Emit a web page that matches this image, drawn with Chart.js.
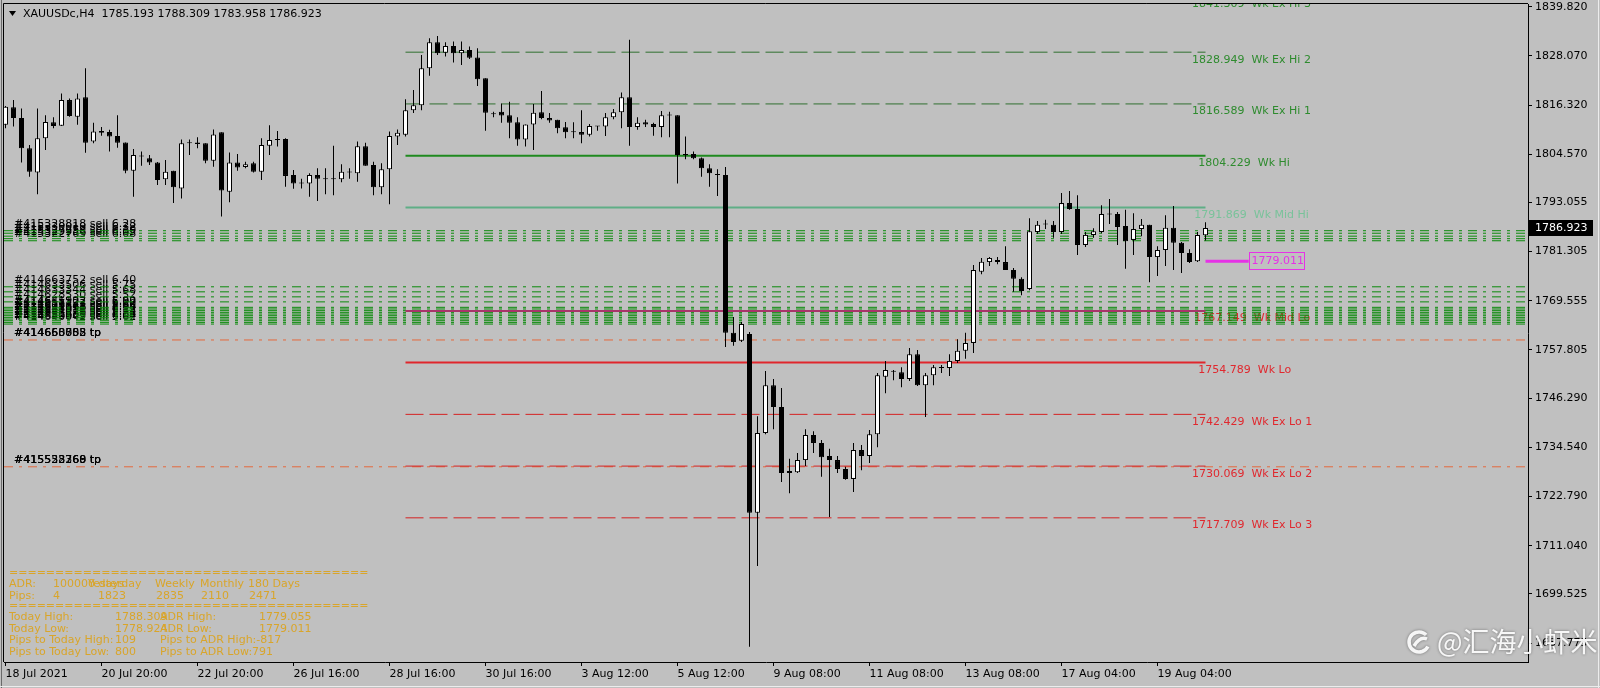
<!DOCTYPE html>
<html>
<head>
<meta charset="utf-8">
<script src="https://cdn.jsdelivr.net/npm/chart.js@4.4.1/dist/chart.umd.min.js"></script>
<style>
  html, body { margin: 0; padding: 0; background: #c0c0c0; overflow: hidden; }
</style>
</head>
<body>
<canvas id="chart" width="1600" height="688"></canvas>
<script>
// XAUUSDc H4, one value per bar, oldest first
const opens = [1811.6,1815.8,1813.2,1806.0,1800.2,1808.4,1812.2,1811.4,1817.5,1813.5,
  1818.2,1807.6,1810.1,1809.9,1808.9,1807.4,1800.6,1804.0,1803.6,1802.6,
  1798.6,1800.6,1796.4,1807.2,1807.4,1807.2,1803.0,1809.8,1795.6,1802.6,
  1801.5,1802.4,1800.4,1806.6,1808.0,1808.2,1799.6,1797.7,1797.6,1799.6,
  1798.8,1798.6,1798.6,1800.2,1800.0,1806.5,1802.0,1796.7,1801.0,1808.8,
  1809.2,1815.1,1816.3,1825.1,1831.3,1828.8,1830.4,1828.7,1829.5,1827.7,
  1822.7,1814.3,1814.7,1813.9,1812.2,1808.1,1811.7,1814.6,1813.2,1812.8,
  1811.0,1809.9,1809.9,1809.2,1811.2,1811.2,1813.4,1814.6,1818.2,1811.1,
  1812.2,1811.8,1811.1,1813.9,1813.9,1804.6,1804.6,1803.6,1801.2,1799.8,
  1799.6,1761.9,1760.0,1761.6,1718.9,1738.0,1749.4,1744.2,1728.4,1728.6,
  1731.5,1737.5,1735.6,1732.5,1731.5,1729.4,1727.0,1733.9,1732.5,1737.7,
  1751.4,1752.6,1752.5,1750.9,1756.8,1749.4,1751.8,1753.5,1753.5,1755.2,
  1757.6,1759.5,1776.5,1778.8,1779.3,1778.8,1776.9,1774.8,1772.4,1786.0,
  1787.8,1787.7,1786.0,1792.9,1791.5,1782.9,1785.3,1786.0,1790.3,1790.3,
  1787.4,1784.1,1786.7,1787.7,1780.0,1781.7,1787.0,1783.4,1781.0,1779.0,
  1785.193];
const highs = [1816.1,1817.5,1815.5,1806.8,1815.5,1813.9,1813.4,1819.1,1817.9,1819.1,
  1825.1,1812.1,1811.1,1810.4,1813.9,1807.4,1805.8,1805.2,1804.4,1802.7,
  1803.2,1800.6,1808.1,1808.1,1808.6,1807.2,1810.5,1809.8,1805.0,1804.6,
  1802.8,1802.8,1808.4,1811.5,1810.1,1808.4,1800.8,1798.7,1800.0,1801.2,
  1801.2,1806.6,1802.2,1801.2,1807.6,1807.3,1802.8,1802.4,1810.0,1810.5,
  1817.7,1819.9,1828.3,1832.3,1832.8,1831.3,1831.5,1831.5,1830.3,1829.9,
  1822.7,1814.7,1816.7,1817.1,1813.4,1811.7,1816.6,1819.7,1814.4,1812.8,
  1812.3,1812.2,1815.1,1811.8,1811.3,1814.4,1815.4,1819.3,1831.9,1813.4,
  1812.8,1812.1,1814.9,1814.7,1813.9,1808.8,1805.2,1803.8,1802.2,1801.0,
  1801.5,1765.7,1764.5,1762.1,1742.0,1752.8,1750.9,1748.7,1731.8,1733.2,
  1738.9,1738.4,1736.3,1734.2,1732.5,1729.9,1735.6,1735.1,1738.7,1752.3,
  1755.2,1753.0,1753.7,1758.3,1757.8,1752.3,1754.2,1754.2,1756.8,1760.4,
  1761.9,1778.1,1779.8,1780.0,1780.0,1782.6,1777.4,1775.2,1789.3,1788.6,
  1788.9,1788.6,1795.3,1795.8,1794.8,1786.0,1786.9,1792.4,1793.9,1790.8,
  1791.3,1790.5,1789.1,1787.7,1782.6,1790.0,1792.2,1783.6,1781.9,1786.0,
  1788.309];
const lows = [1810.8,1811.2,1802.6,1799.2,1795.0,1805.6,1810.8,1811.3,1813.5,1811.6,
  1804.9,1807.2,1809.0,1805.2,1806.1,1800.0,1794.4,1801.8,1802.0,1797.2,
  1797.2,1792.9,1794.0,1804.4,1806.0,1802.4,1801.6,1789.7,1793.1,1800.6,
  1801.2,1800.2,1798.4,1804.4,1806.4,1796.8,1796.3,1796.4,1794.4,1793.4,
  1795.0,1794.8,1797.9,1798.7,1798.0,1801.8,1794.8,1795.0,1792.6,1806.8,
  1808.8,1814.4,1815.1,1823.3,1828.3,1827.9,1826.5,1825.9,1827.3,1820.9,
  1810.2,1813.4,1812.1,1808.4,1806.6,1806.4,1805.6,1812.9,1812.1,1809.6,
  1808.4,1808.4,1807.2,1808.8,1810.2,1808.9,1812.9,1810.8,1806.6,1810.4,
  1811.1,1809.0,1808.6,1808.6,1797.6,1803.4,1803.4,1799.2,1796.8,1794.6,
  1758.5,1758.8,1759.7,1686.9,1706.2,1737.7,1738.9,1726.3,1723.6,1728.4,
  1730.1,1733.2,1727.5,1717.9,1728.4,1726.8,1723.9,1729.1,1730.8,1734.6,
  1747.5,1750.6,1748.9,1750.4,1749.2,1741.8,1749.4,1752.3,1751.6,1754.7,
  1755.7,1757.1,1775.9,1777.9,1778.3,1776.9,1771.7,1770.9,1772.1,1785.5,
  1786.7,1784.6,1785.5,1791.3,1780.5,1782.4,1784.6,1785.7,1787.9,1782.9,
  1777.2,1780.5,1785.0,1774.0,1775.5,1777.9,1776.9,1776.2,1778.6,1778.8,
  1783.958];
const closes = [1815.9,1813.2,1806.0,1800.4,1808.4,1812.3,1811.3,1817.5,1813.7,1817.9,
  1807.3,1810.0,1809.7,1808.8,1807.3,1800.6,1804.4,1804.2,1802.6,1798.4,
  1800.4,1796.7,1807.2,1807.3,1807.0,1803.0,1809.3,1795.9,1802.6,1801.4,
  1802.2,1800.4,1806.8,1808.0,1808.1,1799.4,1797.6,1797.6,1799.6,1798.7,
  1798.6,1798.8,1800.4,1800.3,1806.5,1801.8,1796.7,1801.0,1808.9,1809.7,
  1815.1,1816.3,1825.1,1831.3,1828.7,1830.4,1828.7,1829.5,1827.6,1822.5,
  1814.5,1814.1,1813.8,1812.1,1808.1,1811.7,1814.5,1813.2,1812.6,1810.8,
  1809.8,1809.8,1809.2,1811.3,1811.3,1813.4,1814.6,1818.2,1811.1,1812.1,
  1811.7,1811.1,1813.9,1813.8,1804.4,1804.3,1803.6,1801.2,1800.0,1799.6,
  1761.9,1759.7,1764.0,1718.9,1738.0,1749.4,1744.2,1728.4,1728.9,1731.5,
  1737.5,1735.6,1732.2,1731.5,1729.4,1727.0,1733.9,1732.5,1737.7,1751.8,
  1753.0,1752.8,1750.9,1756.8,1749.4,1751.8,1753.7,1753.6,1755.2,1757.6,
  1759.5,1776.9,1778.9,1779.8,1778.8,1776.9,1774.8,1771.9,1786.2,1787.7,
  1787.9,1786.0,1792.9,1791.5,1782.9,1785.3,1786.2,1790.3,1790.2,1787.2,
  1783.8,1786.7,1787.7,1780.0,1781.7,1787.0,1783.4,1781.0,1778.8,1785.3,
  1786.923];

// time axis labels (bar index -> text)
const timeTickBars = [0, 12, 24, 36, 48, 60, 72, 84, 96, 108, 120, 132, 144];
const timeTickLabels = ['18 Jul 2021', '20 Jul 20:00', '22 Jul 20:00', '26 Jul 16:00', '28 Jul 16:00',
  '30 Jul 16:00', '3 Aug 12:00', '5 Aug 12:00', '9 Aug 08:00', '11 Aug 08:00', '13 Aug 08:00',
  '17 Aug 04:00', '19 Aug 04:00'];
const priceTicks = [1839.820, 1828.070, 1816.320, 1804.570, 1793.055, 1781.305, 1769.555,
  1757.805, 1746.290, 1734.540, 1722.790, 1711.040, 1699.525, 1687.775];

// weekly levels
const levelNames = ['Wk Ex Hi 3', 'Wk Ex Hi 2', 'Wk Ex Hi 1', 'Wk Hi', 'Wk Mid Hi',
  'Wk Mid Lo', 'Wk Lo', 'Wk Ex Lo 1', 'Wk Ex Lo 2', 'Wk Ex Lo 3'];
const levelValues = [1841.309, 1828.949, 1816.589, 1804.229, 1791.869,
  1767.149, 1754.789, 1742.429, 1730.069, 1717.709];
const levelFromBar = 50;
const levelToBar = 150;

// open orders drawn as lines across the chart
const sellTopPrices = [1786.3, 1785.7, 1785.0, 1784.4, 1783.9];
const sellTopTickets = ['#415328818', '#415330019', '#415327259', '#415329936', '#415322769'];
const sellTopLots = [6.28, 6.32, 6.10, 6.05, 6.08];
const sellLowPrices = [1772.9, 1771.7, 1770.5, 1769.3, 1768.0, 1767.6, 1767.2, 1766.8,
  1766.4, 1766.0, 1765.6, 1765.2, 1764.8, 1764.4, 1764.0];
const sellLowTickets = ['#414663752', '#414633506', '#414633344', '#414628530', '#414641902',
  '#414655127', '#414617733', '#414609841', '#414622658', '#414648390', '#414637015',
  '#414644276', '#414651588', '#414659903', '#414640042'];
const sellLowLots = [6.40, 5.75, 5.68, 5.52, 5.90, 6.02, 5.80, 5.66, 5.94, 6.12, 5.58,
  5.72, 5.86, 6.04, 5.62];
const tpPrices = [1760.2, 1729.9];
const tpTickets = [['#414658888', '#414660005', '#414663752'], ['#415553368', '#415538260', '#415522769']];

// ADR panel
const adrPeriods = ['100000 days', 'Yesterday', 'Weekly', 'Monthly', '180 Days'];
const adrPips = [4, 1823, 2835, 2110, 2471];
const todayHigh = 1788.309, todayLow = 1778.924;
const adrHigh = 1779.055, adrLow = 1779.011;
const pipsToTodayHigh = 109, pipsToTodayLow = 800;
const pipsToAdrHigh = -817, pipsToAdrLow = 791;
const adrLineToBar = 155.4;

const FONT = '"DejaVu Sans", Verdana, sans-serif';
const FSIZE = 11;
const X_MIN = -0.1875, X_MAX = 190.3125;

const levelStyle = {
  'Wk Ex Hi 3': { line: '#2f6f2f', width: 1, dash: [18, 6], text: '#2e8b2e', at: 148.3, dy: 4 },
  'Wk Ex Hi 2': { line: '#2f6f2f', width: 1, dash: [18, 6], text: '#2e8b2e', at: 148.3, dy: 7.5 },
  'Wk Ex Hi 1': { line: '#2f6f2f', width: 1, dash: [18, 6], text: '#2e8b2e', at: 148.3, dy: 7.5 },
  'Wk Hi':      { line: '#1f8a1f', width: 2, dash: [],     text: '#2e8b2e', at: 149.1, dy: 7.5 },
  'Wk Mid Hi':  { line: '#5fae86', width: 2, dash: [],     text: '#79c29a', at: 148.6, dy: 7.5 },
  'Wk Mid Lo':  { line: '#a8346a', width: 2, dash: [],     text: '#e0282e', at: 148.6, dy: 7.5 },
  'Wk Lo':      { line: '#e0262c', width: 2, dash: [],     text: '#e0282e', at: 149.1, dy: 8 },
  'Wk Ex Lo 1': { line: '#d42222', width: 1, dash: [18, 6], text: '#e0282e', at: 148.3, dy: 8 },
  'Wk Ex Lo 2': { line: '#d42222', width: 1, dash: [18, 6], text: '#e0282e', at: 148.3, dy: 8 },
  'Wk Ex Lo 3': { line: '#d42222', width: 1, dash: [18, 6], text: '#e0282e', at: 148.3, dy: 7.5 }
};

function hline(price, x0, x1, color, width, dash, order) {
  return {
    type: 'line',
    data: [{ x: x0, y: price }, { x: x1, y: price }],
    borderColor: color,
    borderWidth: width,
    borderDash: dash,
    pointRadius: 0,
    order: order
  };
}

let datasets = [];

// order lines (background)
sellTopPrices.concat(sellLowPrices).forEach(p => {
  datasets.push(hline(p, X_MIN, X_MAX, '#0b8a0b', 1, [9, 6, 3, 6], 20));
});
tpPrices.forEach(p => {
  datasets.push(hline(p, X_MIN, X_MAX, '#e4683c', 1, [9, 6, 3, 6], 20));
});

// weekly levels
levelNames.forEach((n, k) => {
  const st = levelStyle[n];
  datasets.push(hline(levelValues[k], levelFromBar, levelToBar, st.line, st.width, st.dash, 10));
});

// ADR low marker
datasets.push(hline(adrLow, levelToBar, adrLineToBar, '#e632e6', 3, [], 5));

// candles: wicks then bodies on top
datasets.push({
  type: 'bar',
  data: highs.map((h, i) => ({ x: i, y: [lows[i], h] })),
  backgroundColor: '#000000',
  borderWidth: 0,
  barThickness: 1,
  grouped: false,
  inflateAmount: 0,
  order: 2
});
datasets.push({
  type: 'bar',
  data: opens.map((o, i) => ({ x: i, y: [o, closes[i]] })),
  backgroundColor: opens.map((o, i) => (closes[i] - o > 0.5 ? '#ffffff' : '#000000')),
  borderColor: '#000000',
  borderWidth: 1,
  borderSkipped: false,
  barThickness: 5,
  minBarLength: 1,
  grouped: false,
  inflateAmount: 0,
  order: 1
});

function text(ctx, s, x, y, color) {
  ctx.fillStyle = color;
  ctx.fillText(s, x, y);
}

const overlay = {
  id: 'overlay',
  beforeDatasetsDraw(chart) {
    const { ctx, chartArea: a, scales: { x, y } } = chart;
    ctx.save();
    ctx.beginPath();
    ctx.rect(a.left, a.top, a.right - a.left, a.bottom - a.top);
    ctx.clip();
    ctx.font = FSIZE + 'px ' + FONT;
    ctx.textBaseline = 'middle';
    ctx.textAlign = 'left';

    // level captions
    levelNames.forEach((n, k) => {
      const st = levelStyle[n];
      text(ctx, levelValues[k].toFixed(3) + '  ' + n, x.getPixelForValue(st.at),
        y.getPixelForValue(levelValues[k]) + st.dy, st.text);
    });

    // order captions
    sellTopPrices.forEach((p, k) => {
      text(ctx, sellTopTickets[k] + ' sell ' + sellTopLots[k].toFixed(2), a.left + 10,
        y.getPixelForValue(p) - 6.5, '#000');
    });
    sellLowPrices.forEach((p, k) => {
      text(ctx, sellLowTickets[k] + ' sell ' + sellLowLots[k].toFixed(2), a.left + 10,
        y.getPixelForValue(p) - 6.5, '#000');
    });
    tpPrices.forEach((p, k) => {
      tpTickets[k].forEach(t => text(ctx, t + ' tp', a.left + 10, y.getPixelForValue(p) - 6.5, '#000'));
    });
    ctx.restore();
  },
  afterDraw(chart) {
    const { ctx, chartArea: a, scales: { x, y } } = chart;
    ctx.save();

    // window frame and chart border
    ctx.strokeStyle = '#6a6a6a';
    ctx.lineWidth = 1;
    ctx.beginPath();
    ctx.moveTo(1.5, 0); ctx.lineTo(1.5, 688);
    ctx.stroke();
    ctx.strokeStyle = '#ececec';
    ctx.beginPath();
    ctx.moveTo(1598.5, 0); ctx.lineTo(1598.5, 688);
    ctx.moveTo(0, 686.5); ctx.lineTo(1600, 686.5);
    ctx.stroke();
    ctx.strokeStyle = '#000';
    ctx.beginPath();
    ctx.moveTo(a.left - 0.5, a.bottom); ctx.lineTo(a.left - 0.5, a.top - 0.5); ctx.lineTo(a.right, a.top - 0.5);
    ctx.stroke();

    ctx.font = FSIZE + 'px ' + FONT;
    ctx.textBaseline = 'middle';
    ctx.textAlign = 'left';

    // title
    ctx.fillStyle = '#000';
    ctx.beginPath();
    ctx.moveTo(9, 11); ctx.lineTo(16, 11); ctx.lineTo(12.5, 16); ctx.closePath();
    ctx.fill();
    text(ctx, 'XAUUSDc,H4  ' + [opens[150], highs[150], lows[150], closes[150]].map(v => v.toFixed(3)).join(' '),
      23, 14, '#000');

    // ADR panel
    const gold = '#d9a52a';
    let sep = '';
    while (ctx.measureText(sep + '=').width < 360) sep += '=';
    text(ctx, sep, 9, 573, gold);
    text(ctx, 'ADR:', 9, 584, gold);
    const colX = [53, 88, 155, 200, 248];
    adrPeriods.forEach((p, k) => text(ctx, p, colX[k], 584, gold));
    text(ctx, 'Pips:', 9, 596, gold);
    const pipX = [53, 98, 156, 201, 249];
    adrPips.forEach((p, k) => text(ctx, String(p), pipX[k], 596, gold));
    text(ctx, sep, 9, 606, gold);
    text(ctx, 'Today High:', 9, 617, gold);
    text(ctx, todayHigh.toFixed(3), 115, 617, gold);
    text(ctx, 'ADR High:', 160, 617, gold);
    text(ctx, adrHigh.toFixed(3), 259, 617, gold);
    text(ctx, 'Today Low:', 9, 629, gold);
    text(ctx, todayLow.toFixed(3), 115, 629, gold);
    text(ctx, 'ADR Low:', 160, 629, gold);
    text(ctx, adrLow.toFixed(3), 259, 629, gold);
    text(ctx, 'Pips to Today High:', 9, 640, gold);
    text(ctx, String(pipsToTodayHigh), 115, 640, gold);
    text(ctx, 'Pips to ADR High:' + pipsToAdrHigh, 160, 640, gold);
    text(ctx, 'Pips to Today Low:', 9, 652, gold);
    text(ctx, String(pipsToTodayLow), 115, 652, gold);
    text(ctx, 'Pips to ADR Low:' + pipsToAdrLow, 160, 652, gold);

    // ADR low box
    const bx = Math.round(x.getPixelForValue(adrLineToBar)) + 0.5;
    const by = Math.round(y.getPixelForValue(adrLow));
    ctx.strokeStyle = '#e632e6';
    ctx.lineWidth = 1;
    ctx.strokeRect(bx, by - 8.5, 55, 17);
    text(ctx, adrLow.toFixed(3), bx + 2, by + 0.5, '#e632e6');

    // current price marker on the price axis
    const cy = Math.round(y.getPixelForValue(closes[150]));
    ctx.fillStyle = '#000';
    ctx.fillRect(a.right + 1, cy - 8, 64, 16);
    text(ctx, closes[150].toFixed(3), a.right + 7, cy, '#fff');

    // watermark
    ctx.save();
    ctx.shadowColor = 'rgba(0,0,0,0.45)';
    ctx.shadowBlur = 3;
    ctx.strokeStyle = 'rgba(255,255,255,0.92)';
    ctx.lineWidth = 3.5;
    ctx.beginPath();
    ctx.arc(1419, 642, 10, Math.PI * 0.15, Math.PI * 1.75);
    ctx.stroke();
    ctx.beginPath();
    ctx.moveTo(1414, 646); ctx.quadraticCurveTo(1420, 636, 1427, 639);
    ctx.stroke();
    ctx.font = '27px "Noto Sans CJK SC", sans-serif';
    ctx.fillStyle = 'rgba(255,255,255,0.92)';
    ctx.fillText('@汇海小虾米', 1437, 642);
    ctx.restore();

    ctx.restore();
  }
};

new Chart(document.getElementById('chart'), {
  type: 'bar',
  data: { datasets: datasets },
  options: {
    responsive: false,
    animation: false,
    devicePixelRatio: 1,
    layout: { padding: { left: 4, top: 4, right: 0, bottom: 0 } },
    plugins: { legend: { display: false }, tooltip: { enabled: false } },
    scales: {
      x: {
        type: 'linear',
        min: X_MIN,
        max: X_MAX,
        offset: false,
        grid: { offset: false, drawOnChartArea: false, drawTicks: true, tickLength: 4, color: '#000' },
        border: { display: true, color: '#000' },
        ticks: {
          color: '#000',
          font: { family: FONT, size: FSIZE },
          align: 'start',
          maxRotation: 0,
          autoSkip: false,
          padding: 2,
          callback: v => timeTickLabels[timeTickBars.indexOf(v)]
        },
        afterBuildTicks: s => { s.ticks = timeTickBars.map(v => ({ value: v })); },
        afterFit: s => { s.height = 26; s.paddingLeft = 0; s.paddingRight = 0; }
      },
      y: {
        type: 'linear',
        position: 'right',
        min: 1683.27,
        max: 1840.46,
        grid: { drawOnChartArea: false, drawTicks: true, tickLength: 4, color: '#000' },
        border: { display: true, color: '#000' },
        ticks: {
          color: '#000',
          font: { family: FONT, size: FSIZE },
          padding: 3,
          autoSkip: false,
          callback: v => v.toFixed(3)
        },
        afterBuildTicks: s => { s.ticks = priceTicks.map(v => ({ value: v })); },
        afterFit: s => { s.width = 72; s.paddingTop = 0; s.paddingBottom = 0; }
      }
    }
  },
  plugins: [overlay]
});
</script>
</body>
</html>
